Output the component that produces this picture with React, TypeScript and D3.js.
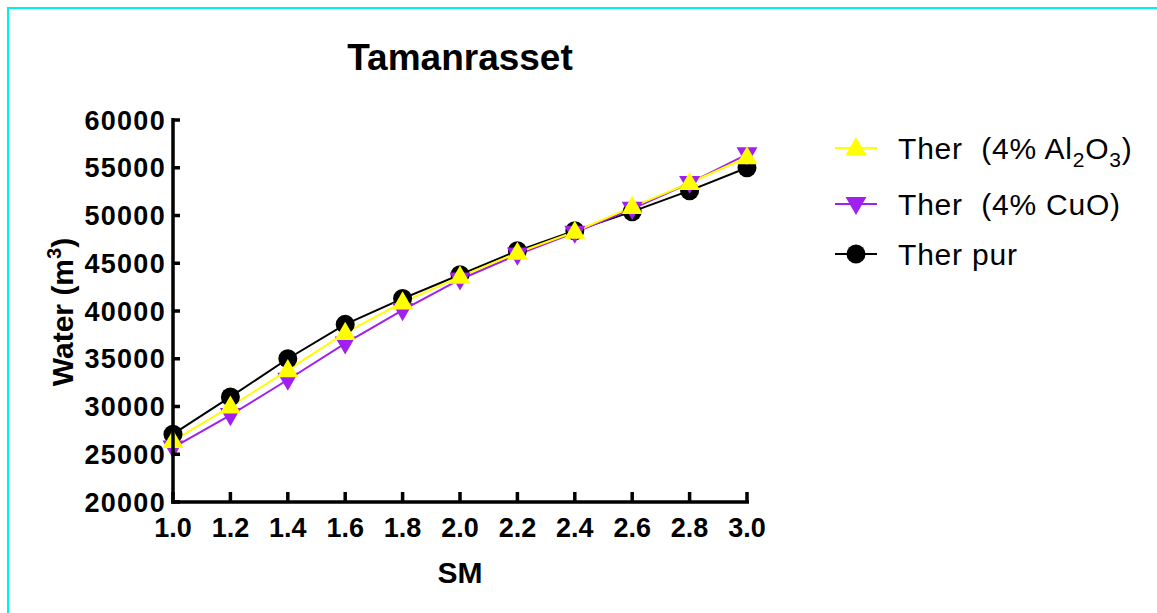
import React from "react";
import * as d3 from "d3";

const smValues = [1.0, 1.2, 1.4, 1.6, 1.8, 2.0, 2.2, 2.4, 2.6, 2.8, 3.0];
const therAl2O3 = [26400, 30000, 33800, 37700, 40900, 43600, 46100, 48300, 50900, 53400, 56100];
const therCuO = [25700, 29100, 32800, 36600, 40100, 43300, 45900, 48200, 50700, 53400, 56400];
const therPur = [27100, 31000, 35000, 38600, 41300, 43800, 46300, 48400, 50400, 52600, 55000];
const yTicks = [20000, 25000, 30000, 35000, 40000, 45000, 50000, 55000, 60000];
const xTicks = [1.0, 1.2, 1.4, 1.6, 1.8, 2.0, 2.2, 2.4, 2.6, 2.8, 3.0];

const FONT = "Arial, 'Liberation Sans', Helvetica, sans-serif";

export default function App() {
  const x = d3.scaleLinear().domain([1, 3]).range([173, 747]);
  const y = d3.scaleLinear().domain([20000, 60000]).range([502, 120]);
  const line = d3
    .line<number>()
    .x((_, i) => x(smValues[i]))
    .y((d) => y(d));

  const tri = d3.symbol().type(d3.symbolTriangle).size(190)();

  const series = [
    { name: "pur", data: therPur, color: "#000000", marker: "circle" },
    { name: "cuo", data: therCuO, color: "#A020F0", marker: "down" },
    { name: "al", data: therAl2O3, color: "#FFFF00", marker: "up" },
  ];

  const renderMarker = (marker: string, color: string, cx: number, cy: number, key: any) => {
    if (marker === "circle") return <circle key={key} cx={cx} cy={cy} r={9.5} fill={color} />;
    if (marker === "up")
      return <path key={key} d={tri as string} transform={`translate(${cx},${cy + 1})`} fill={color} />;
    return (
      <path key={key} d={tri as string} transform={`translate(${cx},${cy - 1}) rotate(180)`} fill={color} />
    );
  };

  const legend = [
    { y: 148, color: "#FFFF00", marker: "up", label: "al" },
    { y: 204, color: "#A020F0", marker: "down", label: "cuo" },
    { y: 254, color: "#000000", marker: "circle", label: "pur" },
  ];

  return (
    <svg
      width={1157}
      height={613}
      style={{ position: "absolute", left: 0, top: 0, background: "#fff" }}
      fontFamily={FONT}
    >
      <rect x={0} y={0} width={1157} height={613} fill="#fff" />
      <rect x={8} y={8} width={1200} height={700} fill="none" stroke="#00F0F0" strokeWidth={2} />

      <text x={460} y={70} textAnchor="middle" fontSize={37} fontWeight="bold">
        Tamanrasset
      </text>

      {series.map((s) => (
        <path key={s.name} d={line(s.data) || ""} fill="none" stroke={s.color} strokeWidth={2} />
      ))}
      {series.map((s) =>
        s.data.map((v, i) => renderMarker(s.marker, s.color, x(smValues[i]), y(v), s.name + i))
      )}

      <line x1={173} x2={173} y1={118} y2={503.75} stroke="#000" strokeWidth={3.5} />
      <line x1={171.25} x2={749} y1={502} y2={502} stroke="#000" strokeWidth={3.5} />
      {yTicks.map((t) => (
        <g key={t}>
          <line x1={173} x2={180} y1={y(t)} y2={y(t)} stroke="#000" strokeWidth={3.5} />
          <text x={166} y={y(t)} dy="0.36em" textAnchor="end" fontSize={27} fontWeight="bold" letterSpacing={1.3}>
            {t}
          </text>
        </g>
      ))}
      {xTicks.map((t) => (
        <g key={t}>
          <line x1={x(t)} x2={x(t)} y1={502} y2={492} stroke="#000" strokeWidth={3.5} />
          <text x={x(t)} y={537} textAnchor="middle" fontSize={27} fontWeight="bold">
            {t.toFixed(1)}
          </text>
        </g>
      ))}

      <text x={460} y={583} textAnchor="middle" fontSize={30} fontWeight="bold">
        SM
      </text>
      <text
        transform="translate(73,312) rotate(-90)"
        textAnchor="middle"
        fontSize={30}
        fontWeight="bold"
      >
        Water (m<tspan fontSize={20} dy={-12}>3</tspan>
        <tspan dy={12}>)</tspan>
      </text>

      {legend.map((l) => (
        <g key={l.label}>
          <line x1={835} x2={877} y1={l.y} y2={l.y} stroke={l.color} strokeWidth={2} />
          {renderMarker(l.marker, l.color, 856, l.y, "lm" + l.label)}
          <text x={898} y={l.y} dy="0.36em" fontSize={30} letterSpacing={0.8} xmlSpace="preserve">
            {l.label === "al" ? (
              <>
                {"Ther  (4% Al"}
                <tspan fontSize={21} dy={8}>2</tspan>
                <tspan dy={-8}>O</tspan>
                <tspan fontSize={21} dy={8}>3</tspan>
                <tspan dy={-8}>)</tspan>
              </>
            ) : l.label === "cuo" ? (
              "Ther  (4% CuO)"
            ) : (
              "Ther pur"
            )}
          </text>
        </g>
      ))}
    </svg>
  );
}
